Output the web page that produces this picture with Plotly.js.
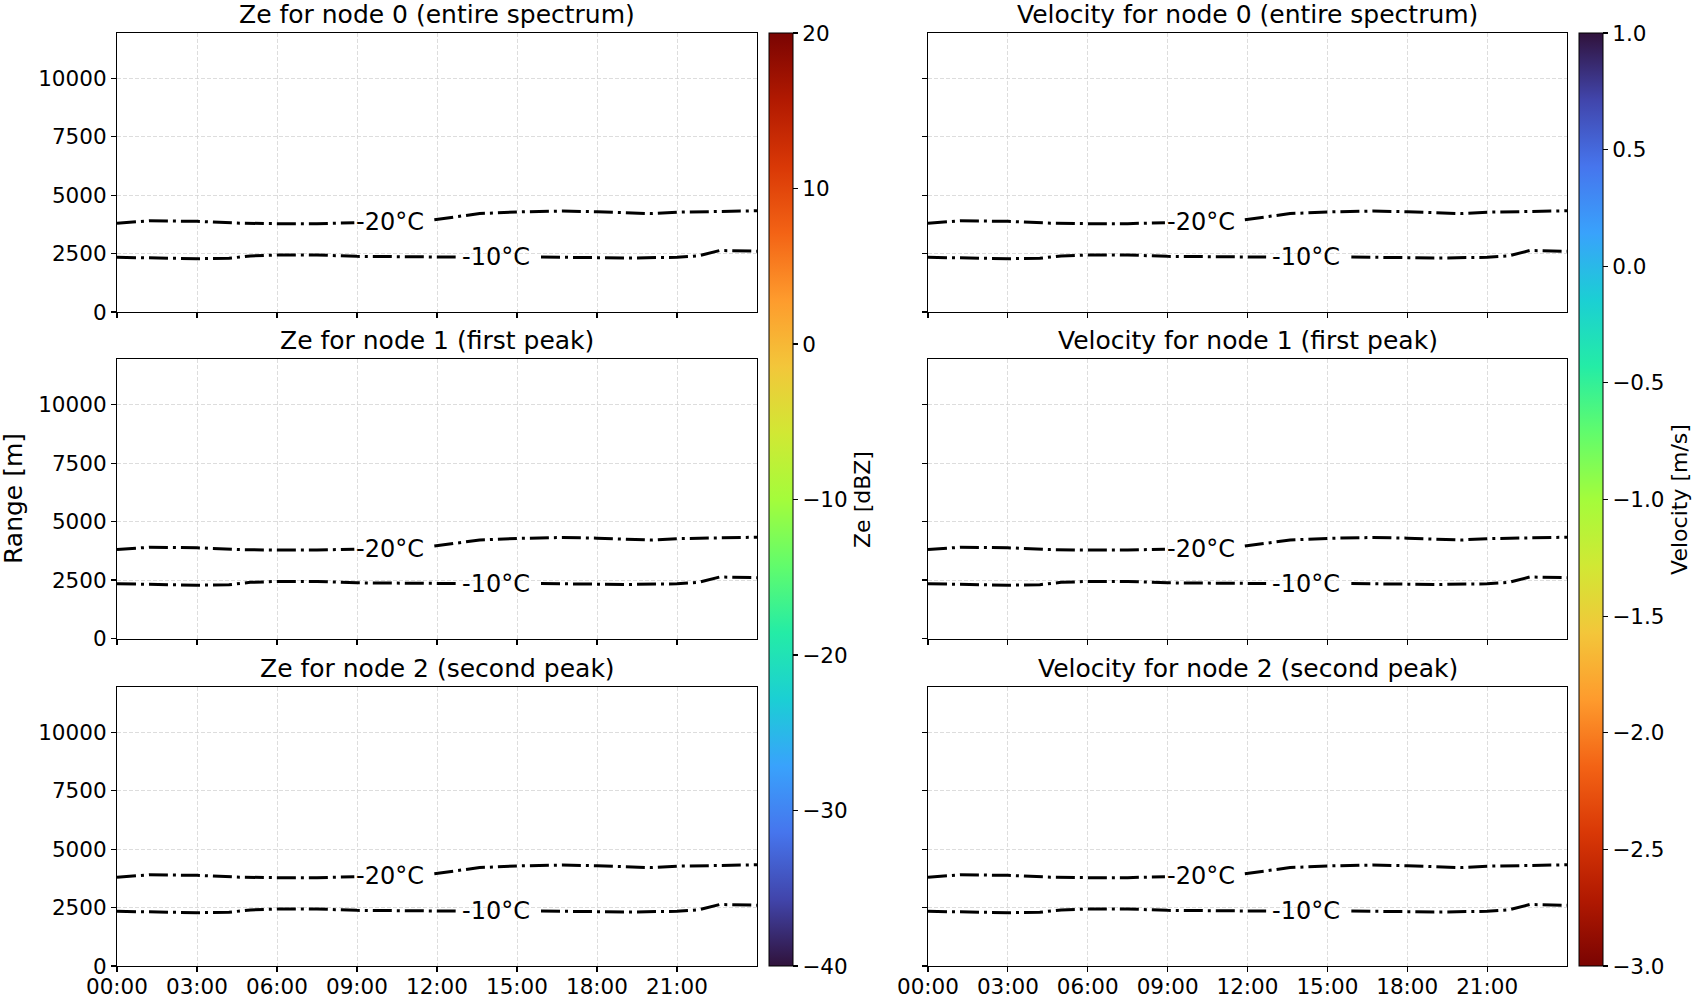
<!DOCTYPE html>
<html><head><meta charset="utf-8">
<script src="https://cdn.plot.ly/plotly-3.0.1.min.js"></script>
<style>body{margin:0;background:#fff}#chart{width:1700px;height:1000px}</style>
</head><body><div id="chart"></div>
<script>
// ---- data ----
const hourTicks = [0, 3, 6, 9, 12, 15, 18, 21];
const hourTickLabels = ["00:00", "03:00", "06:00", "09:00", "12:00", "15:00", "18:00", "21:00"];
const rangeTicks = [0, 2500, 5000, 7500, 10000];

// -20 °C isotherm (null = gap where the inline label sits)
const iso20Hours = [0, 1.2, 3, 4.6, 6, 7.5, 8.9, 10.4, 11.9, 12.6, 13.6, 15, 16.7, 18, 20, 21, 24];
const iso20Range = [3800, 3900, 3880, 3800, 3780, 3780, 3820, null, 3950, 4060, 4210, 4280, 4320, 4290, 4210, 4270, 4330];
// -10 °C isotherm
const iso10Hours = [0, 1.5, 3, 4.2, 5, 6, 7.5, 9, 10.9, 12.7, 14.3, 15.9, 18, 19.2, 21, 21.8, 22.6, 24];
const iso10Range = [2340, 2300, 2280, 2300, 2400, 2440, 2440, 2380, 2360, 2350, null, 2350, 2340, 2310, 2340, 2400, 2630, 2600];

const isoLabels = ["-20°C", "-10°C"];
const isoLabelHours = [10.25, 14.2];
const isoLabelRange = [3830, 2340];

const panelTitles = [
  "Ze for node 0 (entire spectrum)", "Velocity for node 0 (entire spectrum)",
  "Ze for node 1 (first peak)", "Velocity for node 1 (first peak)",
  "Ze for node 2 (second peak)", "Velocity for node 2 (second peak)"
];
const zeTicks = [-40, -30, -20, -10, 0, 10, 20];
const velTicks = [-3.0, -2.5, -2.0, -1.5, -1.0, -0.5, 0.0, 0.5, 1.0];
const zeRange = [-40, 20];
const velRange = [-3, 1];

// ---- style ----
const turboColors = ['#30123b', '#4145ab', '#4675ed', '#39a2fc', '#1bcfd4', '#24eca6', '#61fc6c',
  '#a4fc3b', '#d1e834', '#f3c63a', '#fe9b2d', '#f36315', '#d93806', '#b11901', '#7a0402'];
const turbo = turboColors.map((c, i) => [i / (turboColors.length - 1), c]);
const FONT = 'DejaVu Sans, Liberation Sans, sans-serif';
const TICK = 21.5;

const W = 1700, H = 1000;
const colDom = [[117 / W, 757 / W], [928 / W, 1567 / W]];
const rowDom = [[1 - 312 / H, 1 - 32.7 / H], [1 - 638.5 / H, 1 - 359 / H], [1 - 966 / H, 1 - 686.7 / H]];

const layout = {
  width: W, height: H,
  margin: {l: 0, r: 0, t: 0, b: 0},
  paper_bgcolor: 'white', plot_bgcolor: 'white',
  showlegend: false,
  font: {family: FONT, size: TICK, color: 'black'},
  annotations: []
};

const traces = [];
const lineStyle = {color: 'black', width: 3, dash: '19px,5px,3px,5px'};

for (let r = 0; r < 3; r++) {
  for (let c = 0; c < 2; c++) {
    const idx = r * 2 + c + 1;
    const xn = idx === 1 ? 'xaxis' : 'xaxis' + idx;
    const yn = idx === 1 ? 'yaxis' : 'yaxis' + idx;
    const xr = idx === 1 ? 'x' : 'x' + idx;
    const yr = idx === 1 ? 'y' : 'y' + idx;
    const common = {
      showgrid: true, gridcolor: '#d4d4d4', griddash: '4px,2px', gridwidth: 0.8,
      showline: true, mirror: true, linecolor: 'black', linewidth: 1.1,
      ticks: 'outside', ticklen: 5, tickwidth: 1.1, tickcolor: 'black',
      zeroline: false, tickfont: {family: FONT, size: TICK, color: 'black'}
    };
    layout[xn] = Object.assign({}, common, {
      domain: colDom[c], anchor: yr, range: [0, 24],
      tickmode: 'array', tickvals: hourTicks, ticktext: hourTickLabels,
      showticklabels: r === 2, ticklabelstandoff: -4
    });
    layout[yn] = Object.assign({}, common, {
      domain: rowDom[r], anchor: xr, range: [0, 11950],
      tickmode: 'array', tickvals: rangeTicks, ticktext: rangeTicks.map(String),
      showticklabels: c === 0
    });
    traces.push({x: iso20Hours, y: iso20Range, xaxis: xr, yaxis: yr, type: 'scatter', mode: 'lines',
      line: lineStyle, connectgaps: false, hoverinfo: 'skip'});
    traces.push({x: iso10Hours, y: iso10Range, xaxis: xr, yaxis: yr, type: 'scatter', mode: 'lines',
      line: lineStyle, connectgaps: false, hoverinfo: 'skip'});
    for (let k = 0; k < isoLabels.length; k++) {
      layout.annotations.push({
        xref: xr, yref: yr, x: isoLabelHours[k], y: isoLabelRange[k],
        text: isoLabels[k], showarrow: false, xanchor: 'center', yanchor: 'middle',
        font: {family: FONT, size: 24, color: 'black'}
      });
    }
    layout.annotations.push({
      xref: 'paper', yref: 'paper',
      x: (colDom[c][0] + colDom[c][1]) / 2, y: rowDom[r][1],
      text: panelTitles[(idx - 1)], showarrow: false, xanchor: 'center', yanchor: 'bottom', yshift: 2,
      font: {family: FONT, size: 25, color: 'black'}
    });
  }
}

layout.annotations.push({
  xref: 'paper', yref: 'paper', x: 13 / W, y: 1 - 499 / H,
  text: 'Range [m]', showarrow: false, textangle: -90, xanchor: 'center', yanchor: 'middle',
  font: {family: FONT, size: 25, color: 'black'}
});

function colorbarTrace(xr, yr, cr, ticks, fmt, title, xpos, reverse) {
  return {
    type: 'scatter', mode: 'markers', xaxis: xr, yaxis: yr,
    x: [hourTicks[0]], y: [-5000], hoverinfo: 'skip',
    marker: {
      color: [cr[0]], cmin: cr[0], cmax: cr[1], colorscale: turbo, reversescale: reverse,
      showscale: true, size: 1,
      colorbar: {
        x: xpos, xanchor: 'left', thickness: 24, thicknessmode: 'pixels',
        len: (966 - 32.7) / H, lenmode: 'fraction', y: 1 - 966 / H, yanchor: 'bottom',
        xpad: 0, ypad: 0, outlinewidth: 1, outlinecolor: 'black',
        ticks: 'outside', ticklen: 5, tickwidth: 1.1, tickcolor: 'black',
        tickmode: 'array', tickvals: ticks,
        ticktext: ticks.map(v => (v < 0 ? '\u2212' : '') + Math.abs(v).toFixed(fmt)),
        tickfont: {family: FONT, size: TICK, color: 'black'},
        title: {text: title, side: 'right', font: {family: FONT, size: 22, color: 'black'}}
      }
    }
  };
}
traces.push(colorbarTrace('x', 'y', zeRange, zeTicks, 0, 'Ze [dBZ]', 768.7 / W, false));
traces.push(colorbarTrace('x2', 'y2', velRange, velTicks, 1, 'Velocity [m/s]', 1579 / W, true));

Plotly.newPlot('chart', traces, layout, {staticPlot: true, displayModeBar: false});
</script>
</body></html>
